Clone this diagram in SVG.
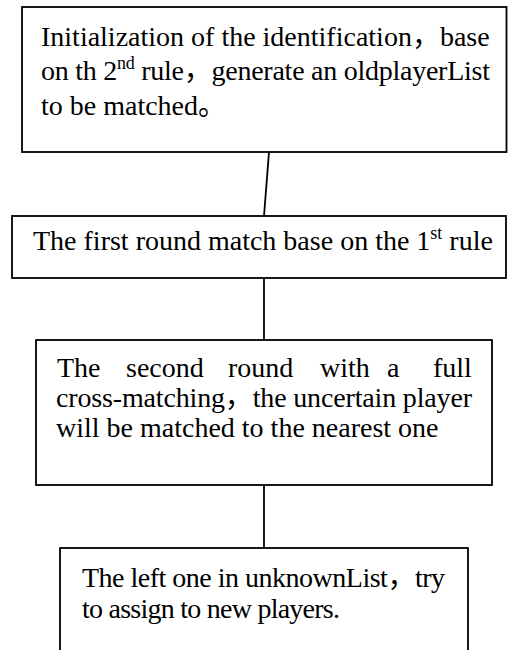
<svg xmlns="http://www.w3.org/2000/svg" width="508" height="650" viewBox="0 0 508 650">
<style>
.box{fill:#fff;stroke:#000;stroke-width:1.8}
.conn{stroke:#000;stroke-width:1.8;fill:none}
text{font-family:"Liberation Serif","Noto Sans CJK SC",serif;font-size:28px;fill:#000}
.sup{font-size:18px}
</style>
<rect width="508" height="650" fill="#fff"/>
<g id="connectors">
<line class="conn" x1="269" y1="152" x2="264" y2="216"/>
<line class="conn" x1="264" y1="278" x2="264" y2="340"/>
<line class="conn" x1="264" y1="485" x2="264" y2="548"/>
</g>
<g id="node1">
<rect class="box" x="22" y="7" width="484.5" height="145"/>
<text x="41" y="45.5">Initialization of the identification，base</text>
<text x="41" y="80" textLength="449" lengthAdjust="spacing">on th 2<tspan class="sup" dy="-11">nd</tspan><tspan dy="11"> rule，generate an oldplayerList</tspan></text>
<text x="41" y="115">to be matched。</text>
</g>
<g id="node2">
<rect class="box" x="12" y="216" width="494" height="62"/>
<text x="33" y="250">The first round match base on the 1<tspan class="sup" dy="-11">st</tspan><tspan dy="11"> rule</tspan></text>
</g>
<g id="node3">
<rect class="box" x="36" y="340" width="456" height="145"/>
<text y="377"><tspan x="57">The</tspan><tspan x="126">second</tspan><tspan x="228">round</tspan><tspan x="320">with</tspan><tspan x="387">a</tspan><tspan x="433">full</tspan></text>
<text x="56" y="407" textLength="416" lengthAdjust="spacing">cross-matching，the uncertain player</text>
<text x="56" y="437">will be matched to the nearest one</text>
</g>
<g id="node4">
<rect class="box" x="60" y="548" width="408" height="150"/>
<text x="82" y="587" textLength="363" lengthAdjust="spacing">The left one in unknownList，try</text>
<text x="82" y="618" textLength="258" lengthAdjust="spacing">to assign to new players.</text>
</g>
</svg>
